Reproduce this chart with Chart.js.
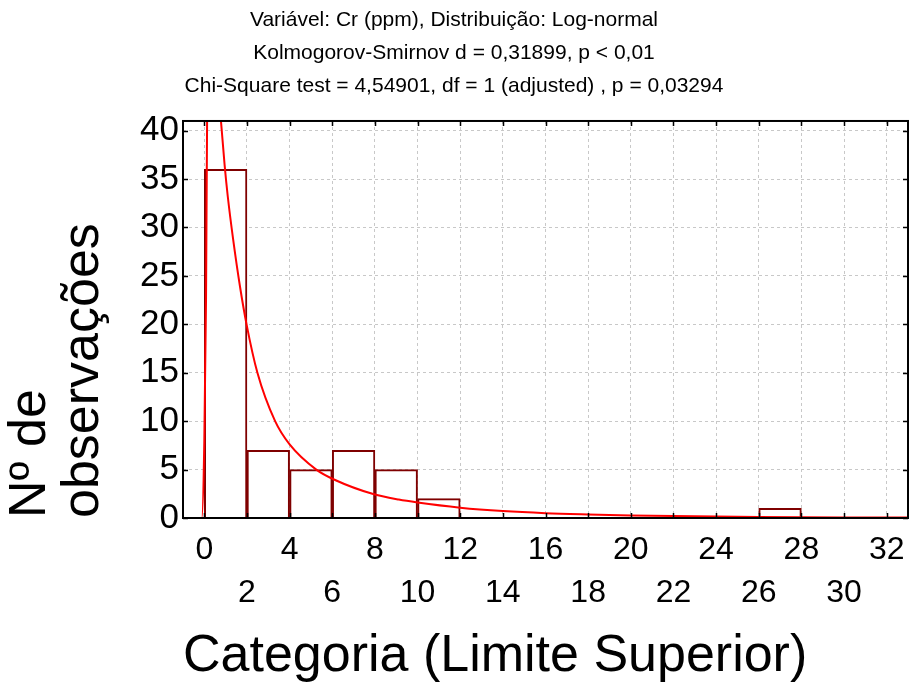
<!DOCTYPE html>
<html>
  <head>
    <meta charset="utf-8" />
    <script src="https://cdn.jsdelivr.net/npm/chart.js"></script>
    <style>
      body {
        margin: 0;
        background: #ffffff;
      }
      #wrap {
        width: 910px;
        height: 684px;
      }
    </style>
  </head>
  <body>
    <div id="wrap"><canvas id="chart" width="910" height="684"></canvas></div>

    <script>
      // histogram: upper limit of each class and number of observations
      const binWidth = 2;
      const binUpper = [2, 4, 6, 8, 10, 12, 14, 16, 18, 20, 22, 24, 26, 28, 30, 32];
      const counts = [36, 7, 5, 7, 5, 2, 0, 0, 0, 0, 0, 0, 0, 1, 0, 0];

      // fitted log-normal curve (expected observations)
      const curveX = [-1, -0.12, 0, 0.08, 0.13, 0.25, 0.4, 0.55, 0.78, 0.95, 1.1, 1.35, 1.68, 1.98, 2.49, 3.32, 4.0, 5.25, 6.16, 7.88, 9.12, 10, 12, 14, 16, 18, 20, 22, 24, 26, 28, 30, 32, 33];
      const curveY = [0, 0, 8, 22.6, 41, 50, 52, 48, 41, 36.5, 33.2, 28.8, 23.8, 20, 15, 10, 7.6, 5, 3.9, 2.5, 1.9, 1.6, 1.07, 0.72, 0.5, 0.37, 0.27, 0.2, 0.15, 0.11, 0.08, 0.06, 0.05, 0.04];

      const xTicks = [0, 2, 4, 6, 8, 10, 12, 14, 16, 18, 20, 22, 24, 26, 28, 30, 32];
      const yTicks = [0, 5, 10, 15, 20, 25, 30, 35, 40];

      const titleLines = [
        "Variável: Cr (ppm), Distribuição: Log-normal",
        "Kolmogorov-Smirnov d = 0,31899, p < 0,01",
        "Chi-Square test = 4,54901, df = 1 (adjusted) , p = 0,03294",
      ];

      Chart.defaults.font.family = "'Liberation Sans', Arial, sans-serif";
      Chart.defaults.color = "#000000";

      // black frame with short inward tick marks on all four sides
      const frame = {
        id: "frame",
        afterDraw(chart) {
          const { ctx, chartArea: a } = chart;
          const xs = chart.scales.x;
          const ys = chart.scales.y;
          const len = 5;
          ctx.save();
          ctx.strokeStyle = "#000000";
          ctx.lineWidth = 1.5;
          ctx.beginPath();
          for (const v of xTicks) {
            const px = Math.round(xs.getPixelForValue(v)) + 0.5;
            ctx.moveTo(px, a.bottom);
            ctx.lineTo(px, a.bottom - len);
            ctx.moveTo(px, a.top);
            ctx.lineTo(px, a.top + len);
          }
          for (const v of yTicks) {
            const py = Math.round(ys.getPixelForValue(v)) + 0.5;
            ctx.moveTo(a.left, py);
            ctx.lineTo(a.left + len, py);
            ctx.moveTo(a.right, py);
            ctx.lineTo(a.right - len, py);
          }
          ctx.stroke();
          ctx.lineWidth = 2;
          ctx.strokeRect(a.left, a.top, a.right - a.left, a.bottom - a.top);
          ctx.restore();
        },
      };

      new Chart(document.getElementById("chart"), {
        type: "bar",
        data: {
          datasets: [
            {
              type: "line",
              data: curveX.map((x, i) => ({ x: x, y: curveY[i] })),
              borderColor: "#ff0000",
              borderWidth: 2,
              pointRadius: 0,
              cubicInterpolationMode: "monotone",
              clip: 0,
              order: 0,
            },
            {
              data: binUpper.map((u, i) => ({ x: u - binWidth / 2, y: counts[i] })),
              backgroundColor: "#ffffff",
              borderColor: "#7f0000",
              borderWidth: 2,
              barPercentage: 1,
              categoryPercentage: 1,
              order: 1,
            },
          ],
        },
        options: {
          responsive: false,
          animation: false,
          layout: { padding: { left: 0, right: 2, top: 0, bottom: 0 } },
          plugins: {
            legend: { display: false },
            tooltip: { enabled: false },
            title: {
              display: true,
              text: titleLines,
              font: { size: 21, weight: "normal", lineHeight: 1.571 },
              padding: { top: 4, bottom: 18 },
            },
          },
          scales: {
            x: {
              type: "linear",
              min: -1,
              max: 33,
              offset: false,
              afterBuildTicks: (s) => {
                s.ticks = xTicks.map((v) => ({ value: v }));
              },
              afterFit: (s) => {
                s.height = 166;
                s.paddingLeft = 0;
                s.paddingRight = 0;
              },
              grid: {
                offset: false,
                color: "#c8c8c8",
                drawTicks: false,
              },
              border: { display: false, dash: [3, 3] },
              ticks: {
                autoSkip: false,
                maxRotation: 0,
                padding: 11,
                font: { size: 32, lineHeight: 1.33 },
                callback: (v) => (v % 4 === 0 ? String(v) : ["", String(v)]),
              },
              title: {
                display: true,
                text: "Categoria (Limite Superior)",
                align: "start",
                font: { size: 52, lineHeight: 1 },
                padding: { top: 0, bottom: 1 },
              },
            },
            y: {
              min: 0,
              max: 41,
              afterBuildTicks: (s) => {
                s.ticks = yTicks.map((v) => ({ value: v }));
              },
              afterFit: (s) => {
                s.width = 183;
                s.paddingTop = 0;
                s.paddingBottom = 0;
              },
              grid: {
                color: "#c8c8c8",
                drawTicks: false,
              },
              border: { display: false, dash: [3, 3] },
              ticks: {
                padding: 4,
                font: { size: 35 },
              },
              title: {
                display: true,
                text: ["Nº de", "observações"],
                align: "start",
                font: { size: 52, lineHeight: 1.02 },
                padding: { top: 4, bottom: 0 },
              },
            },
          },
        },
        plugins: [frame],
      });
    </script>
  </body>
</html>
